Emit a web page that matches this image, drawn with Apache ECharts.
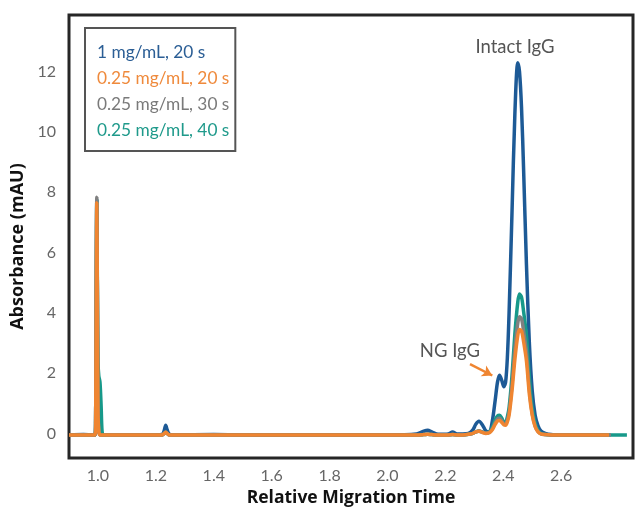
<!DOCTYPE html>
<html>
<head>
<meta charset="utf-8">
<script src="https://cdn.jsdelivr.net/npm/echarts@6/dist/echarts.min.js"></script>
<style>
html,body{margin:0;padding:0;background:#fff;}
#chart{width:636px;height:512px;}
</style>
</head>
<body>
<div id="chart"></div>
<script>
// Relative migration time (x values shared by all traces)
var migrationTime = [
  0.90, 0.95, 0.985, 0.990, 0.992, 0.994, 0.996, 0.998, 1.000, 1.003, 1.007, 1.011, 1.014, 1.018, 1.03,
  1.10, 1.20, 1.222, 1.229, 1.234, 1.239, 1.246, 1.26, 1.40, 1.60, 1.80, 2.00,
  2.10, 2.125, 2.139, 2.153, 2.175, 2.21, 2.225, 2.24,
  2.26, 2.28, 2.295, 2.305, 2.316, 2.328, 2.34, 2.352, 2.362, 2.372, 2.38, 2.387, 2.395, 2.402, 2.408, 2.414,
  2.42, 2.43, 2.44, 2.45, 2.456, 2.463, 2.47, 2.48, 2.49, 2.50, 2.51, 2.52, 2.53, 2.545, 2.565,
  2.60, 2.70, 2.76, 2.765, 2.772, 2.827
];
// Absorbance (mAU) per trace
var conc1_20s = [
  -0.05, -0.04, -0.05, -0.05, 0.4, 4.2, 7.75, 4.5, 0.8, 0.05, -0.04, -0.05, -0.05, -0.05, -0.06,
  -0.06, -0.05, -0.03, 0.1, 0.27, 0.12, -0.02, -0.05, -0.04, -0.06, -0.05, -0.05,
  -0.02, 0.07, 0.1, 0.05, -0.03, -0.02, 0.05, -0.02,
  -0.02, 0.0, 0.12, 0.3, 0.4, 0.28, 0.08, 0.05, 0.4, 1.1, 1.7, 1.93, 1.75, 1.55, 1.7, 2.5,
  4.0, 7.3, 10.6, 12.3, 12.0, 10.8, 8.8, 5.6, 3.0, 1.4, 0.6, 0.25, 0.08, 0.0, -0.04,
  -0.05, -0.05, -0.05, null, null, null
];
var conc025_20s = [
  -0.05, -0.05, -0.05, -0.05, 0.4, 4.2, 7.65, 4.5, 0.8, 0.05, -0.05, -0.05, -0.05, -0.05, -0.05,
  -0.05, -0.05, -0.05, 0.0, 0.04, 0.0, -0.05, -0.05, -0.05, -0.05, -0.05, -0.05,
  -0.05, -0.04, -0.03, -0.04, -0.05, -0.05, -0.04, -0.05,
  -0.05, -0.03, 0.0, 0.05, 0.07, 0.03, 0.0, 0.02, 0.12, 0.3, 0.41, 0.43, 0.36, 0.28, 0.27, 0.38,
  0.6, 1.4, 2.45, 3.25, 3.45, 3.4, 3.05, 2.4, 1.3, 0.6, 0.22, 0.05, -0.02, -0.04, -0.05,
  -0.05, -0.05, -0.05, -0.05, null, null
];
var conc025_30s = [
  -0.05, -0.05, -0.05, -0.05, 0.4, 4.3, 7.83, 4.6, 0.9, 0.1, -0.05, -0.05, -0.05, -0.05, -0.05,
  -0.05, -0.05, -0.05, 0.0, 0.05, 0.0, -0.05, -0.05, -0.05, -0.05, -0.05, -0.05,
  -0.05, -0.04, -0.03, -0.04, -0.05, -0.05, -0.04, -0.05,
  -0.05, -0.03, 0.0, 0.05, 0.08, 0.04, 0.01, 0.04, 0.15, 0.36, 0.48, 0.5, 0.42, 0.32, 0.32, 0.45,
  0.7, 1.6, 2.8, 3.65, 3.87, 3.8, 3.4, 2.7, 1.45, 0.65, 0.25, 0.06, -0.02, -0.04, -0.05,
  -0.05, -0.05, -0.05, -0.05, -0.05, null
];
var conc025_40s = [
  -0.05, -0.05, -0.05, -0.05, 0.4, 4.3, 7.75, 5.0, 2.4, 1.9, 1.7, 0.9, 0.1, -0.05, -0.05,
  -0.05, -0.05, -0.05, 0.0, 0.05, 0.0, -0.05, -0.05, -0.05, -0.05, -0.05, -0.05,
  -0.05, -0.04, -0.03, -0.04, -0.05, -0.05, -0.04, -0.05,
  -0.05, -0.03, 0.0, 0.05, 0.08, 0.04, 0.02, 0.05, 0.2, 0.45, 0.58, 0.6, 0.5, 0.38, 0.38, 0.55,
  0.85, 1.9, 3.3, 4.35, 4.62, 4.52, 4.05, 3.25, 1.85, 0.85, 0.35, 0.1, 0.0, -0.04, -0.05,
  -0.05, -0.05, -0.05, -0.05, -0.05, -0.05
];
var seriesNames = ['1 mg/mL, 20 s', '0.25 mg/mL, 20 s', '0.25 mg/mL, 30 s', '0.25 mg/mL, 40 s'];
var lineColors = ['#1d5a96', '#ef8531', '#808080', '#17998a'];
var textColors = ['#2b5e95', '#ef8a3c', '#7a7a7a', '#1f9a8b'];
var xTickLabels = ['1.0', '1.2', '1.4', '1.6', '1.8', '2.0', '2.2', '2.4', '2.6'];
var yTickLabels = ['0', '2', '4', '6', '8', '10', '12'];

function pairs(ys) {
  return migrationTime.map(function (t, i) { return [t, ys[i]]; });
}

var chart = echarts.init(document.getElementById('chart'), null, {renderer: 'canvas'});

var traces = [conc1_20s, conc025_40s, conc025_30s, conc025_20s];
var order = [0, 3, 2, 1]; // draw order: blue, teal, gray, orange

var series = order.map(function (k, j) {
  var s = {
    name: seriesNames[k],
    type: 'line',
    data: pairs(traces[j]),
    showSymbol: false,
    symbol: 'none',
    smooth: 0.3,
    connectNulls: false,
    lineStyle: {color: lineColors[k], width: 3.5},
    itemStyle: {color: lineColors[k]},
    z: 2 + j,
    animation: false
  };
  if (k === 1) {
    s.markLine = {
      silent: true,
      symbol: ['none', 'arrow'],
      symbolSize: [9, 10],
      label: {show: false},
      lineStyle: {color: '#ef8531', width: 2.5, type: 'solid'},
      data: [[{coord: [2.285, 2.30]}, {coord: [2.362, 1.92]}]]
    };
  }
  return s;
});

var option = {
  animation: false,
  backgroundColor: '#ffffff',
  grid: {
    left: 69, right: 1.5, top: 15, bottom: 51,
    show: true, borderColor: '#262626', borderWidth: 3, backgroundColor: 'transparent'
  },
  legend: {
    orient: 'vertical',
    left: 85, top: 28,
    data: order.slice().sort().map(function (k) {
      return {name: seriesNames[k], textStyle: {color: textColors[k]}};
    }),
    icon: 'rect',
    itemWidth: 0, itemHeight: 0,
    itemGap: 9,
    padding: [16, 6, 12, 7],
    borderColor: '#555',
    borderWidth: 2,
    backgroundColor: '#fff',
    selectedMode: false,
    textStyle: {fontFamily: 'Lato', fontSize: 17.3}
  },
  xAxis: {
    type: 'value',
    min: 0.9, max: 2.848,
    minInterval: 0.2, maxInterval: 0.2,
    axisLine: {show: false},
    axisTick: {show: false},
    splitLine: {show: false},
    axisLabel: {
      margin: 10,
      color: '#666',
      fontFamily: 'Lato',
      fontSize: 16,
      formatter: function (v) {
        var s = v.toFixed(1);
        return xTickLabels.indexOf(s) >= 0 && Math.abs(v * 5 - Math.round(v * 5)) < 1e-6 ? s : '';
      }
    },
    name: 'Relative Migration Time',
    nameLocation: 'middle',
    nameGap: 30,
    nameTextStyle: {fontFamily: 'Open Sans', fontWeight: 'bold', fontSize: 17.5, color: '#111'}
  },
  yAxis: {
    type: 'value',
    min: -0.82, max: 13.88,
    minInterval: 2, maxInterval: 2,
    axisLine: {show: false},
    axisTick: {show: false},
    splitLine: {show: false},
    axisLabel: {
      margin: 13,
      color: '#666',
      fontFamily: 'Lato',
      fontSize: 16,
      formatter: function (v) {
        var s = String(Math.round(v));
        return Math.abs(v - Math.round(v)) < 1e-6 && yTickLabels.indexOf(s) >= 0 ? s : '';
      }
    },
    name: 'Absorbance (mAU)',
    nameLocation: 'middle',
    nameGap: 33,
    nameTextStyle: {fontFamily: 'Open Sans', fontWeight: 'bold', fontSize: 18, color: '#111', padding: [0, 20, 0, 0]}
  },
  graphic: [
    {type: 'text', x: 515, y: 47, style: {text: 'Intact IgG', fill: '#555', font: '18.5px Lato', align: 'center', verticalAlign: 'middle'}},
    {type: 'text', x: 450, y: 351, style: {text: 'NG IgG', fill: '#555', font: '18.5px Lato', align: 'center', verticalAlign: 'middle'}}
  ],
  series: series
};
chart.setOption(option);
</script>
</body>
</html>
